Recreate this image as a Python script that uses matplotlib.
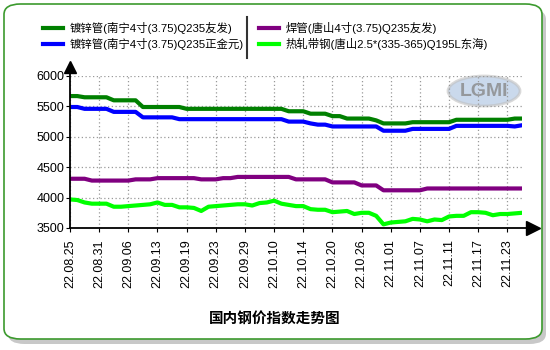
import matplotlib
matplotlib.use("Agg")
import matplotlib.pyplot as plt
from matplotlib.patches import FancyBboxPatch, Ellipse
from matplotlib.lines import Line2D

plt.rcParams['font.family'] = ['Liberation Sans', 'Noto Sans CJK SC', 'DejaVu Sans']

# tick labels (one every 4 points)
tick_labels = ['22.08.25', '22.08.31', '22.09.06', '22.09.13', '22.09.19', '22.09.23',
               '22.09.29', '22.10.10', '22.10.14', '22.10.20', '22.10.26', '22.11.01',
               '22.11.07', '22.11.11', '22.11.17', '22.11.23']

names = ['镀锌管(南宁4寸(3.75)Q235友发)', '镀锌管(南宁4寸(3.75)Q235正金元)',
         '焊管(唐山4寸(3.75)Q235友发)', '热轧带钢(唐山2.5*(335-365)Q195L东海)']

dxg_youfa = [5670, 5670, 5650, 5650, 5650, 5650, 5600, 5600, 5600, 5600,
             5490, 5490, 5490, 5490, 5490, 5490, 5460, 5460, 5460, 5460,
             5460, 5460, 5460, 5460, 5460, 5460, 5460, 5460, 5460, 5460,
             5420, 5420, 5420, 5380, 5380, 5380, 5340, 5340, 5300, 5300,
             5300, 5300, 5270, 5220, 5220, 5220, 5220, 5240, 5240, 5240,
             5240, 5240, 5240, 5280, 5280, 5280, 5280, 5280, 5280, 5280,
             5280, 5300, 5300]

dxg_zjy = [5490, 5490, 5460, 5460, 5460, 5460, 5410, 5410, 5410, 5410,
           5320, 5320, 5320, 5320, 5320, 5290, 5290, 5290, 5290, 5290,
           5290, 5290, 5290, 5290, 5290, 5290, 5290, 5290, 5290, 5290,
           5250, 5250, 5250, 5220, 5200, 5200, 5170, 5170, 5170, 5170,
           5170, 5170, 5170, 5100, 5100, 5100, 5100, 5130, 5130, 5130,
           5130, 5130, 5130, 5180, 5180, 5180, 5180, 5180, 5180, 5180,
           5180, 5170, 5190]

hg_youfa = [4310, 4310, 4310, 4280, 4280, 4280, 4280, 4280, 4280, 4300,
            4300, 4300, 4320, 4320, 4320, 4320, 4320, 4320, 4300, 4300,
            4300, 4320, 4320, 4340, 4340, 4340, 4340, 4340, 4340, 4340,
            4340, 4300, 4300, 4300, 4300, 4300, 4250, 4250, 4250, 4250,
            4200, 4200, 4200, 4120, 4120, 4120, 4120, 4120, 4120, 4150,
            4150, 4150, 4150, 4150, 4150, 4150, 4150, 4150, 4150, 4150,
            4150, 4150, 4150]

rzdg_dh = [3970, 3960, 3920, 3900, 3900, 3900, 3850, 3850, 3860, 3870,
           3880, 3890, 3920, 3880, 3880, 3840, 3840, 3830, 3780, 3850,
           3860, 3870, 3880, 3890, 3890, 3870, 3910, 3920, 3950, 3900,
           3880, 3860, 3860, 3810, 3800, 3800, 3760, 3770, 3780, 3730,
           3750, 3750, 3700, 3560, 3590, 3600, 3610, 3650, 3640, 3610,
           3640, 3630, 3690, 3700, 3700, 3760, 3760, 3750, 3710, 3730,
           3730, 3740, 3750]

colors = ['#008000', '#0000ff', '#800080', '#00ff00']

W, H = 550, 350
fig = plt.figure(figsize=(5.5, 3.5), dpi=100)


def fx(x):
    return x / W


def fy(y):
    return 1 - y / H


# shadow + rounded frame
shadow = FancyBboxPatch((fx(8), fy(344)), fx(538), fy(9) - fy(344),
                        boxstyle="round,pad=0,rounding_size=0.03",
                        transform=fig.transFigure, facecolor='#c8c8c8', edgecolor='none',
                        zorder=0)
fig.patches.append(shadow)
frame = FancyBboxPatch((fx(4), fy(339)), fx(538), fy(4) - fy(339),
                       boxstyle="round,pad=0,rounding_size=0.03",
                       transform=fig.transFigure, facecolor='white', edgecolor='#3c9a2e',
                       linewidth=1.2, zorder=1)
fig.patches.append(frame)

ax = fig.add_axes([fx(70), fy(228), fx(452), fy(76) - fy(228)])
ax.set_zorder(2)
ax.patch.set_visible(False)

x = list(range(len(dxg_youfa)))
series = [dxg_youfa, dxg_zjy, hg_youfa, rzdg_dh]
lines = []
for vals, c, n in zip(series, colors, names):
    ln, = ax.plot(x, vals, color=c, lw=3, label=n, solid_joinstyle='round')
    lines.append(ln)

ax.set_xlim(0, len(x) - 1)
ax.set_ylim(3500, 6000)
ax.set_yticks([3500, 4000, 4500, 5000, 5500, 6000])
ax.set_xticks(list(range(0, 4 * len(tick_labels), 4)))
ax.set_xticklabels(tick_labels, rotation=90, fontsize=9)
ax.tick_params(axis='y', labelsize=9, length=3, pad=1, color='black')
ax.tick_params(axis='x', length=3, pad=5)
ax.grid(True, color='#999999', linestyle=(0, (1, 2)), linewidth=0.9)

for s in ['top', 'right', 'bottom', 'left']:
    ax.spines[s].set_visible(False)
# axis lines with arrows
ax.plot([0, 1.015], [0, 0], transform=ax.transAxes, color='black', lw=1.3, clip_on=False)
ax.plot([1.024], [0], transform=ax.transAxes, marker='>', color='black', ms=10,
        clip_on=False)
ax.plot([0, 0], [0, 1.04], transform=ax.transAxes, color='black', lw=1.3, clip_on=False)
ax.plot([0], [1.06], transform=ax.transAxes, marker='^', color='black', ms=9,
        clip_on=False)

# watermark
logo = Ellipse((fx(484), fy(91)), fx(72), 1 - fy(30), transform=fig.transFigure,
               facecolor='#a8c0e0', edgecolor='#c0c0c0', alpha=0.6, lw=2, zorder=1.5)
fig.patches.append(logo)
fig.text(fx(484), fy(92), 'LGMI', color='#888888', alpha=0.8, fontsize=14,
         fontweight='bold', ha='center', va='center', zorder=1.6)

leg = fig.legend(lines, names, ncol=2, loc='upper left', frameon=False,
                 bbox_to_anchor=(fx(43), fy(22)), borderaxespad=0, borderpad=0,
                 fontsize=8.2, handlelength=1.75, handletextpad=0.6, columnspacing=1.3,
                 labelspacing=0.35)
leg.set_zorder(3)

fig.add_artist(Line2D([fx(247), fx(247)], [fy(17), fy(58)], color='#333333', lw=1.5,
                      transform=fig.transFigure, zorder=3))

fig.text(0.5, fy(319), '国内钢价指数走势图', ha='center', va='center',
         fontsize=10.5, fontweight='bold', zorder=3)

fig.savefig('out.png', dpi=100)
